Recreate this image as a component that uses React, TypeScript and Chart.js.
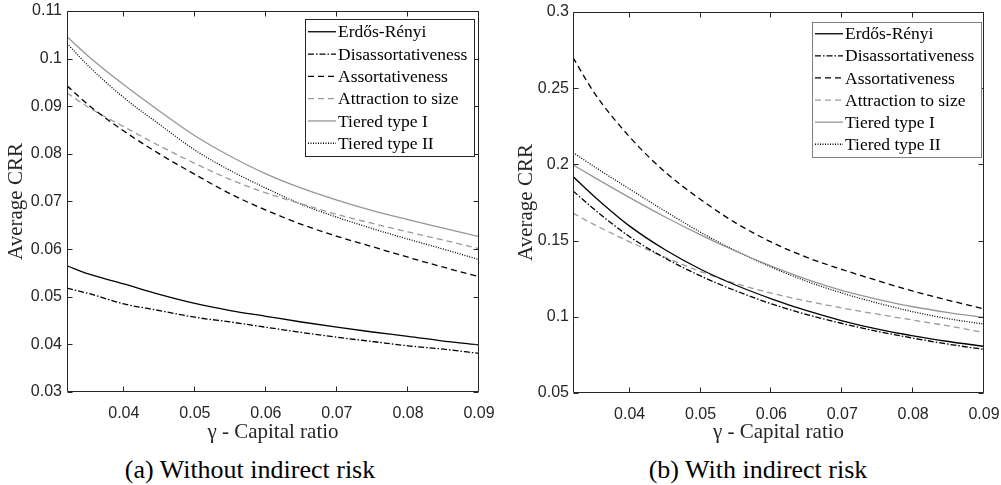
import React, { useEffect, useRef } from 'react';
import { Chart, registerables } from 'chart.js';

Chart.register(...registerables);

// ---------- data ----------
const gammaValues = [0.032, 0.035, 0.04, 0.045, 0.05, 0.055, 0.06, 0.065, 0.07, 0.075, 0.08, 0.085, 0.09];
const xTickValues = [0.04, 0.05, 0.06, 0.07, 0.08, 0.09];

const seriesNames = [
  'Erdős-Rényi',
  'Disassortativeness',
  'Assortativeness',
  'Attraction to size',
  'Tiered type I',
  'Tiered type II',
];

// (a) Without indirect risk
const erdosA = [0.0565, 0.0548, 0.0527, 0.0505, 0.0486, 0.0471, 0.0459, 0.0447, 0.0436, 0.0426, 0.0417, 0.0407, 0.0399];
const disassortA = [0.0518, 0.0507, 0.0485, 0.0471, 0.0457, 0.0447, 0.0436, 0.0425, 0.0415, 0.0406, 0.0397, 0.039, 0.0381];
const assortA = [0.0943, 0.0903, 0.0848, 0.08, 0.0757, 0.0716, 0.0682, 0.0652, 0.0627, 0.0605, 0.0583, 0.0562, 0.0542];
const attractA = [0.0928, 0.0898, 0.0857, 0.0817, 0.078, 0.0746, 0.0718, 0.0695, 0.0673, 0.0654, 0.0636, 0.0619, 0.0601];
const tieredIA = [0.1046, 0.1005, 0.0945, 0.089, 0.0838, 0.0795, 0.0758, 0.0728, 0.0703, 0.0681, 0.0662, 0.0644, 0.0626];
const tieredIIA = [0.1032, 0.0985, 0.0918, 0.0862, 0.0808, 0.0765, 0.0728, 0.0694, 0.0667, 0.0643, 0.0621, 0.06, 0.0578];
const yTicksA = [0.03, 0.04, 0.05, 0.06, 0.07, 0.08, 0.09, 0.1, 0.11];

// (b) With indirect risk
const erdosB = [0.192, 0.179, 0.1595, 0.144, 0.1312, 0.1207, 0.1118, 0.104, 0.0974, 0.0919, 0.0875, 0.0838, 0.0806];
const disassortB = [0.1826, 0.1705, 0.1525, 0.1385, 0.1268, 0.117, 0.1085, 0.1015, 0.0956, 0.0904, 0.086, 0.082, 0.0786];
const assortB = [0.2701, 0.247, 0.218, 0.195, 0.177, 0.1615, 0.149, 0.139, 0.131, 0.1237, 0.1168, 0.1108, 0.1052];
const attractB = [0.168, 0.1605, 0.1492, 0.139, 0.1297, 0.1218, 0.1155, 0.1103, 0.1058, 0.1017, 0.0978, 0.094, 0.0897];
const tieredIB = [0.1997, 0.1915, 0.1782, 0.1655, 0.1538, 0.143, 0.1332, 0.1245, 0.1172, 0.1115, 0.1066, 0.1028, 0.0996];
const tieredIIB = [0.2078, 0.1985, 0.1838, 0.1693, 0.1555, 0.1432, 0.1325, 0.1233, 0.1155, 0.109, 0.1033, 0.0987, 0.0952];
const yTicksB = [0.05, 0.1, 0.15, 0.2, 0.25, 0.3];

// ---------- styles ----------
const lineColors = ['#000000', '#000000', '#000000', '#9a9a9a', '#969696', '#000000'];
const lineDashes: number[][] = [[], [6, 2, 1.5, 2], [6, 4], [6, 4], [], [1, 1.5]];
const AXIS_COLOR = '#262626';
const SANS = '"Liberation Sans", Arial, sans-serif';
const SERIF = '"Liberation Serif", "Times New Roman", serif';
const CANVAS_H = 445;

const fmt = (v: number) => String(+Number(v).toFixed(3));

const matlabBox = {
  id: 'matlabBox',
  afterDatasetsDraw(chart: any) {
    const { ctx, chartArea } = chart;
    const { left, right, top, bottom } = chartArea;
    const xs = chart.scales.x;
    const ys = chart.scales.y;
    const tl = 5;
    ctx.save();
    ctx.strokeStyle = AXIS_COLOR;
    ctx.lineWidth = 1;
    ctx.setLineDash([]);
    const L = Math.round(left) + 0.5;
    const R = Math.round(right) - 0.5;
    const T = Math.round(top) + 0.5;
    const B = Math.round(bottom) - 0.5;
    ctx.beginPath();
    ctx.rect(L, T, R - L, B - T);
    ctx.stroke();
    ctx.beginPath();
    xs.ticks.forEach((t: any) => {
      const px = Math.round(xs.getPixelForValue(t.value)) - 0.5;
      ctx.moveTo(px, B);
      ctx.lineTo(px, B - tl);
      ctx.moveTo(px, T);
      ctx.lineTo(px, T + tl);
    });
    ys.ticks.forEach((t: any) => {
      const py = Math.round(ys.getPixelForValue(t.value)) + 0.5;
      ctx.moveTo(L, py);
      ctx.lineTo(L + tl, py);
      ctx.moveTo(R, py);
      ctx.lineTo(R - tl, py);
    });
    ctx.stroke();
    ctx.restore();
  },
};

const boxLegend = {
  id: 'boxLegend',
  afterDraw(chart: any, _args: any, opts: any) {
    const { ctx, chartArea } = chart;
    const ds = chart.data.datasets;
    const n = ds.length;
    const x1 = chartArea.right - opts.insetRight;
    const x0 = x1 - opts.width;
    const y0 = chartArea.top + opts.insetTop;
    const h = opts.rowH * n + opts.padV * 2;
    ctx.save();
    ctx.fillStyle = '#ffffff';
    ctx.fillRect(x0, y0, opts.width, h);
    ctx.strokeStyle = opts.borderColor;
    ctx.lineWidth = 1;
    ctx.setLineDash([]);
    ctx.strokeRect(Math.round(x0) + 0.5, Math.round(y0) + 0.5, Math.round(opts.width), Math.round(h));
    ctx.font = `${opts.fontSize}px ${SERIF}`;
    ctx.textBaseline = 'middle';
    ctx.textAlign = 'left';
    ds.forEach((d: any, i: number) => {
      const cy = y0 + opts.padV + opts.rowH * (i + 0.5);
      ctx.beginPath();
      ctx.strokeStyle = d.borderColor;
      ctx.lineWidth = d.borderWidth;
      ctx.setLineDash(d.borderDash || []);
      ctx.moveTo(x0 + 3, cy);
      ctx.lineTo(x0 + 31, cy);
      ctx.stroke();
      ctx.setLineDash([]);
      ctx.fillStyle = '#000000';
      ctx.fillText(d.label, x0 + 33, cy + 1);
    });
    ctx.restore();
  },
};

type PanelProps = {
  left: number;
  width: number;
  series: number[][];
  yTicks: number[];
  padTop: number;
  padRight: number;
  yAxisW: number;
  xAxisH: number;
  yTickPad: number;
  yTitlePad: number;
  legend: any;
};

function Panel(p: PanelProps) {
  const ref = useRef<HTMLCanvasElement>(null);
  useEffect(() => {
    const yMin = p.yTicks[0];
    const yMax = p.yTicks[p.yTicks.length - 1];
    const chart = new Chart(ref.current as HTMLCanvasElement, {
      type: 'line',
      data: {
        datasets: seriesNames.map((name, i) => ({
          label: name,
          data: gammaValues.map((g, j) => ({ x: g, y: p.series[i][j] })),
          borderColor: lineColors[i],
          borderDash: lineDashes[i],
          borderWidth: 1.3,
          pointRadius: 0,
          fill: false,
          cubicInterpolationMode: 'monotone',
        })),
      },
      options: {
        animation: false,
        responsive: false,
        maintainAspectRatio: false,
        layout: { padding: { top: p.padTop, right: p.padRight, bottom: 0, left: 0 } },
        plugins: {
          legend: { display: false },
          tooltip: { enabled: false },
          boxLegend: p.legend,
        } as any,
        scales: {
          x: {
            type: 'linear',
            min: gammaValues[0],
            max: gammaValues[gammaValues.length - 1],
            afterBuildTicks: (s: any) => {
              s.ticks = xTickValues.map((v) => ({ value: v }));
            },
            afterFit: (s: any) => {
              s.height = p.xAxisH;
              s.paddingLeft = 0;
              s.paddingRight = 0;
            },
            grid: { display: false, drawTicks: false },
            border: { display: false },
            ticks: {
              autoSkip: false,
              maxRotation: 0,
              padding: 11.5,
              color: AXIS_COLOR,
              font: { family: SANS, size: 16 },
              callback: (v: any) => fmt(v),
            },
            title: {
              display: true,
              text: 'γ - Capital ratio',
              color: AXIS_COLOR,
              font: { family: SERIF, size: 21 },
              padding: { top: 0, bottom: 0 },
            },
          },
          y: {
            type: 'linear',
            min: yMin,
            max: yMax,
            afterBuildTicks: (s: any) => {
              s.ticks = p.yTicks.map((v) => ({ value: v }));
            },
            afterFit: (s: any) => {
              s.width = p.yAxisW;
              s.paddingTop = 0;
              s.paddingBottom = 0;
            },
            grid: { display: false, drawTicks: false },
            border: { display: false },
            ticks: {
              autoSkip: false,
              padding: p.yTickPad,
              color: AXIS_COLOR,
              font: { family: SANS, size: 16 },
              callback: (v: any) => fmt(v),
            },
            title: {
              display: true,
              text: 'Average CRR',
              color: AXIS_COLOR,
              font: { family: SERIF, size: 21 },
              padding: { top: p.yTitlePad, bottom: 0 },
            },
          },
        },
      } as any,
      plugins: [matlabBox, boxLegend],
    });
    return () => chart.destroy();
  }, []);
  return (
    <canvas
      ref={ref}
      width={p.width}
      height={CANVAS_H}
      style={{ position: 'absolute', left: p.left, top: 0, width: p.width, height: CANVAS_H }}
    />
  );
}

const captionStyle: React.CSSProperties = {
  position: 'absolute',
  top: 455,
  width: 500,
  textAlign: 'center',
  fontFamily: SERIF,
  fontSize: 26,
  lineHeight: '30px',
  color: '#000',
};

export default function App() {
  return (
    <div
      style={{
        position: 'fixed',
        left: 0,
        top: 0,
        width: 1001,
        height: 485,
        background: '#ffffff',
        overflow: 'hidden',
      }}
    >
      <Panel
        left={0}
        width={500}
        series={[erdosA, disassortA, assortA, attractA, tieredIA, tieredIIA]}
        yTicks={yTicksA}
        padTop={11}
        padRight={21}
        yAxisW={67}
        xAxisH={53}
        yTickPad={5}
        yTitlePad={4}
        legend={{ insetRight: 5, insetTop: 8, width: 169, rowH: 22.3, padV: 1.6, fontSize: 17.5, borderColor: '#262626' }}
      />
      <Panel
        left={500}
        width={501}
        series={[erdosB, disassortB, assortB, attractB, tieredIB, tieredIIB]}
        yTicks={yTicksB}
        padTop={12}
        padRight={17}
        yAxisW={73}
        xAxisH={52}
        yTickPad={4}
        yTitlePad={14}
        legend={{ insetRight: 3, insetTop: 9.5, width: 169, rowH: 22.1, padV: 1.2, fontSize: 17.5, borderColor: '#808080' }}
      />
      <div style={{ ...captionStyle, left: 0 }}>(a) Without indirect risk</div>
      <div style={{ ...captionStyle, left: 508 }}>(b) With indirect risk</div>
    </div>
  );
}
